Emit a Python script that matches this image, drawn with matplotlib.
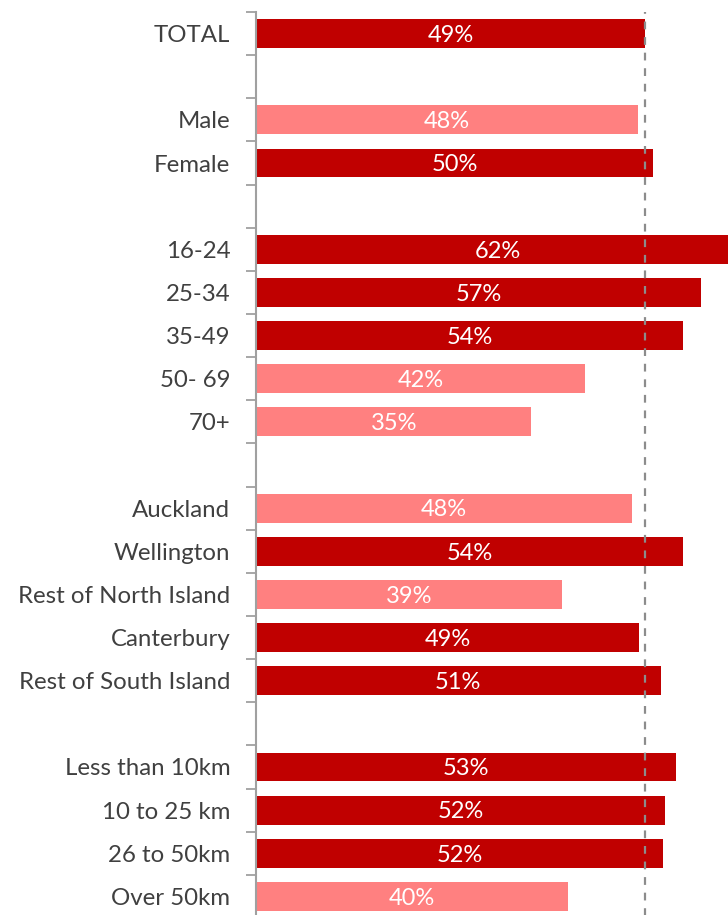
import matplotlib
matplotlib.use("Agg")
import matplotlib.pyplot as plt
import numpy as np

categories = ["TOTAL", "", "Male", "Female", "", "16-24", "25-34", "35-49", "50- 69", "70+", "",
              "Auckland", "Wellington", "Rest of North Island", "Canterbury", "Rest of South Island", "",
              "Less than 10km", "10 to 25 km", "26 to 50km", "Over 50km"]
values = [49.4, None, 48.6, 50.5, None, 62.0, 56.6, 54.3, 41.8, 35.0, None,
          47.8, 54.3, 38.9, 48.7, 51.4, None, 53.4, 52.0, 51.7, 39.7]
labels = ["49%", "", "48%", "50%", "", "62%", "57%", "54%", "42%", "35%", "",
          "48%", "54%", "39%", "49%", "51%", "", "53%", "52%", "52%", "40%"]
highlight = [True, False, False, True, False, True, True, True, False, False, False,
             False, True, False, True, True, False, True, True, True, False]
x_max = 61.5

DARK = "#C00000"
LIGHT = "#FF8080"

plt.rcParams['font.family'] = ['Lato', 'DejaVu Sans']

fig = plt.figure(figsize=(7.28, 9.15), dpi=100)
ax = fig.add_axes([256/728, 1 - 918/915, (740 - 256)/728, (918 - 12)/915])

n = len(categories)
ypos = np.arange(n)
for i, (v, lab, hi) in enumerate(zip(values, labels, highlight)):
    if v is None:
        continue
    ax.barh(i, v, height=0.67, color=DARK if hi else LIGHT, edgecolor="none", zorder=2)
    cx = min(v, x_max) / 2
    ax.text(cx, i + 0.04, lab, ha="center", va="center", color="white", fontsize=17, zorder=4)

ax.axvline(values[0], color="#8C8C8C", lw=1.6, ls=(0, (3.5, 3.5)), zorder=3)

ax.set_xlim(0, x_max)
ax.set_ylim(n - 0.5, -0.5)
ax.set_yticks(ypos)
ax.set_yticklabels(categories, fontsize=17.3, color="#404040")
ax.tick_params(axis="y", which="major", length=0, pad=18.5)
ax.set_yticks(np.arange(-0.5, n, 1.0), minor=True)
ax.tick_params(axis="y", which="minor", length=7, width=1.3, color="#A0A0A0", direction="out")
ax.set_xticks([])
for s in ["top", "right", "bottom"]:
    ax.spines[s].set_visible(False)
ax.spines["left"].set_color("#A0A0A0")
ax.spines["left"].set_linewidth(1.5)

fig.savefig("out.png", dpi=100)
